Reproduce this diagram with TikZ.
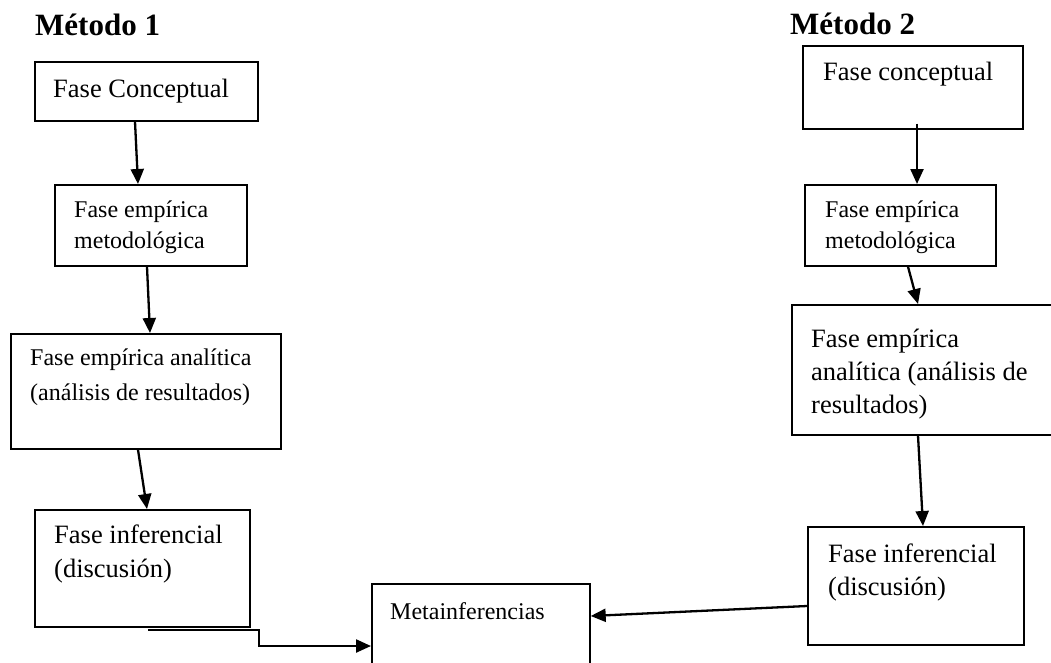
\documentclass[tikz,border=0pt]{standalone}
\usepackage{fontspec}
\setmainfont{Liberation Serif}
\usetikzlibrary{arrows.meta}

\tikzset{
	fase/.style={draw, line width=1.7pt, inner sep=0pt, anchor=north west},
	txt/.style={inner sep=0pt, anchor=north west, align=left},
	flecha/.style={line width=2.3pt, -{Triangle[length=15pt,width=13pt]}}
}

\begin{document}
\begin{tikzpicture}[x=1pt, y=-1pt]
	\path[use as bounding box, clip] (0,0) rectangle (1051,662);
	%% titulos
	\node[anchor=base west, inner sep=0pt, font=\fontsize{31}{36}\selectfont\bfseries] (tit1) at (35,35) {Método 1};
	\node[anchor=base west, inner sep=0pt, font=\fontsize{31}{36}\selectfont\bfseries] (tit2) at (790,34) {Método 2};
	%% metodo 1
	\node[fase, minimum width=223pt, minimum height=59pt] (con1) at (34,61) {};
	\node[txt, font=\fontsize{26.5}{33}\selectfont] at ([shift={(19,18)}]con1.north west) {Fase Conceptual};
	\node[fase, minimum width=192pt, minimum height=81pt] (met1) at (54,184) {};
	\node[txt, font=\fontsize{24}{31}\selectfont] at ([shift={(20,17)}]met1.north west) {Fase empírica\\metodológica};
	\node[fase, minimum width=270pt, minimum height=115pt] (ana1) at (10,333) {};
	\node[txt, font=\fontsize{24}{35}\selectfont] at ([shift={(20,16)}]ana1.north west) {Fase empírica analítica\\(análisis de resultados)};
	\node[fase, minimum width=215pt, minimum height=117pt] (inf1) at (34,509) {};
	\node[txt, font=\fontsize{26.5}{34}\selectfont] at ([shift={(20,16)}]inf1.north west) {Fase inferencial\\(discusión)};
	%% metainferencias
	\node[fase, minimum width=218pt, minimum height=100pt] (meta) at (371,583) {};
	\node[txt, font=\fontsize{24}{31}\selectfont] at ([shift={(19,19)}]meta.north west) {Metainferencias};
	%% metodo 2
	\node[fase, minimum width=220pt, minimum height=83pt] (con2) at (802,45) {};
	\node[txt, font=\fontsize{26.5}{33}\selectfont] at ([shift={(21,17)}]con2.north west) {Fase conceptual};
	\node[fase, minimum width=191pt, minimum height=81pt] (met2) at (804,184) {};
	\node[txt, font=\fontsize{24}{31}\selectfont] at ([shift={(21,17)}]met2.north west) {Fase empírica\\metodológica};
	\node[fase, minimum width=264pt, minimum height=130pt] (ana2) at (791,304) {};
	\node[txt, font=\fontsize{26.5}{33}\selectfont] at ([shift={(20,25)}]ana2.north west) {Fase empírica\\analítica (análisis de\\resultados)};
	\node[fase, minimum width=216pt, minimum height=118pt] (inf2) at (807,526) {};
	\node[txt, font=\fontsize{26.5}{33}\selectfont] at ([shift={(21,18)}]inf2.north west) {Fase inferencial\\(discusión)};
	%% flechas
	\draw[flecha] ([xshift=101pt]con1.south west) -- ([xshift=84pt]met1.north west);
	\draw[flecha] ([xshift=93pt]met1.south west) -- ([xshift=140pt]ana1.north west);
	\draw[flecha] ([xshift=128pt]ana1.south west) -- ([xshift=113pt]inf1.north west);
	\draw[flecha] ([shift={(114,2)}]inf1.south west) -- ++(111,0) |- ([shift={(0,63)}]meta.north west);
	%%
	\draw[flecha] ([shift={(115,-6)}]con2.south west) -- ([xshift=113pt]met2.north west);
	\draw[flecha] ([xshift=104pt]met2.south west) -- ([xshift=127pt]ana2.north west);
	\draw[flecha] ([xshift=127pt]ana2.south west) -- ([xshift=116pt]inf2.north west);
	\draw[flecha] ([yshift=-80pt]inf2.north west) -- ([yshift=-33pt]meta.north east);
\end{tikzpicture}
\end{document}
